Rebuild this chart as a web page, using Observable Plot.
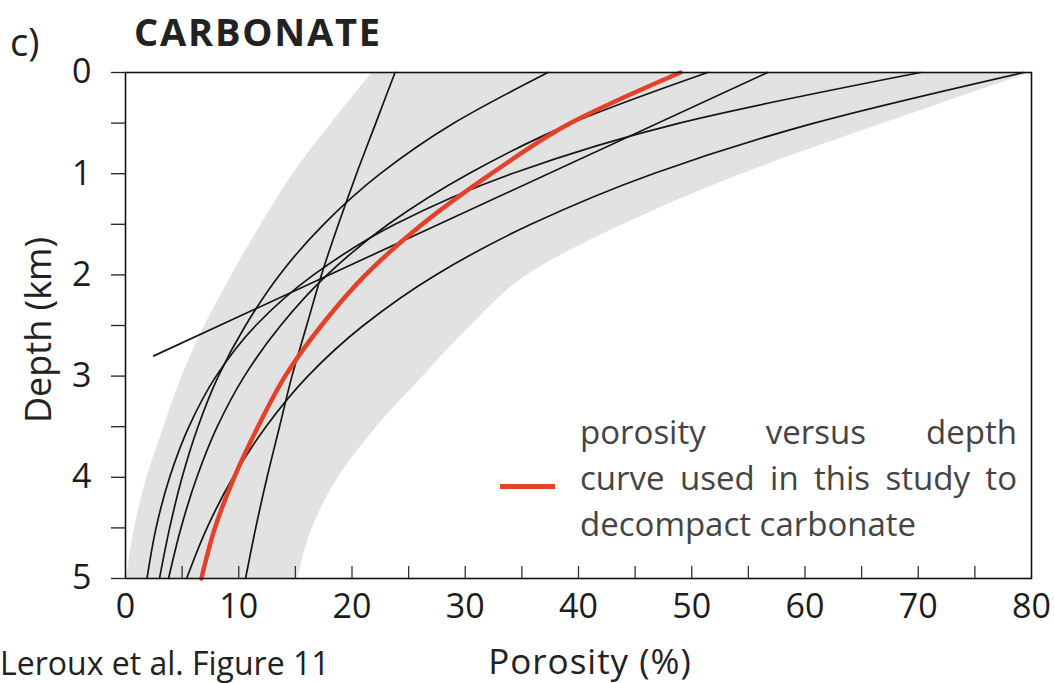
<!DOCTYPE html>
<html>
<head>
<meta charset="utf-8">
<script src="https://cdn.jsdelivr.net/npm/d3@7"></script>
<script src="https://cdn.jsdelivr.net/npm/@observablehq/plot@0.6"></script>
<style>
  html, body { margin: 0; padding: 0; background: #fff; overflow: hidden; }
  #wrap { position: relative; width: 1054px; height: 683px; font-family: "Open Sans", sans-serif; color: #222; overflow: hidden; }
  #wrap svg { position: absolute; left: 0; top: 0; }
  .t { position: absolute; white-space: nowrap; line-height: 1; }
  .leg { position: absolute; left: 580px; width: 437px; font-size: 33px; line-height: 46px; color: #444; white-space: nowrap; }
  .just { text-align: justify; text-align-last: justify; }
</style>
</head>
<body>
<div id="wrap"></div>
<script>
// ---- data ----
const depthKm = [0, 0.5, 1, 1.5, 2, 2.5, 3, 3.5, 4, 4.5, 5];

// published porosity-depth curves (porosity %, at depthKm)
const curveFrom24 = [23.8, 22.1, 20.4, 18.8, 17.3, 16.0, 14.7, 13.6, 12.5, 11.5, 10.6];
const curveFrom37 = [37.3, 29.0, 22.5, 17.5, 13.6, 10.6, 8.2, 6.4, 5.0, 3.9, 3.0];
const curveFrom51 = [51.4, 39.4, 30.3, 23.2, 17.8, 13.7, 10.5, 8.1, 6.3, 4.9, 3.8];
const curveFrom70 = [70.2, 48.9, 34.1, 23.8, 16.6, 11.5, 8.0, 5.6, 3.9, 2.7, 1.9];
const curveFrom79 = [79.3, 60.8, 46.6, 35.8, 27.4, 21.0, 16.1, 12.4, 9.5, 7.2, 5.4];

// straight (linear) curve
const linearDepth = [0, 2.8];
const linearPorosity = [56.7, 2.5];

// curve used in this study (red)
const usedCurve = [49.0, 39.3, 32.3, 26.2, 21.2, 17.3, 14.1, 11.7, 9.6, 7.9, 6.7];

// grey envelope
const envelopeLow  = [21.8, 18.2, 14.8, 12.0, 9.4, 7.0, 5.0, 3.4, 1.9, 0.8, 0.1];
const envelopeHigh = [80.0, 67.0, 54.5, 44.0, 35.5, 30.5, 26.3, 22.2, 18.8, 16.5, 15.2];

// axes
const xTickLabels = [0, 10, 20, 30, 40, 50, 60, 70, 80];
const xMinorTicks = [5, 10, 15, 20, 25, 30, 35, 40, 45, 50, 55, 60, 65, 70, 75];
const yTicks = [0, 0.5, 1, 1.5, 2, 2.5, 3, 3.5, 4, 4.5, 5];
const yTickLabels = [0, 1, 2, 3, 4, 5];

// ---- build tables ----
const toRows = (name, values) => depthKm.map((d, i) => ({name, depth: d, porosity: values[i]}));
const blackCurves = [
  ...toRows("c24", curveFrom24),
  ...toRows("c37", curveFrom37),
  ...toRows("c51", curveFrom51),
  ...toRows("c70", curveFrom70),
  ...toRows("c79", curveFrom79)
];
const linearRows = linearDepth.map((d, i) => ({depth: d, porosity: linearPorosity[i]}));
const usedRows = toRows("used", usedCurve);
const envelope = depthKm.map((d, i) => ({depth: d, lo: envelopeLow[i], hi: envelopeHigh[i]}));

const plot = Plot.plot({
  width: 1054,
  height: 683,
  marginLeft: 125,
  marginRight: 23,
  marginTop: 72,
  marginBottom: 105,
  x: {domain: [0, 80], axis: null},
  y: {domain: [0, 5], reverse: true, axis: null},
  style: {fontFamily: "Open Sans, sans-serif", fontSize: "34px", color: "#1c1c1c", background: "transparent", overflow: "visible"},
  marks: [
    Plot.areaX(envelope, {y: "depth", x1: "lo", x2: "hi", fill: "#e2e2e2", curve: "monotone-y"}),
    Plot.line(blackCurves, {x: "porosity", y: "depth", z: "name", stroke: "#151515", strokeWidth: 1.7, curve: "monotone-y"}),
    Plot.line(linearRows, {x: "porosity", y: "depth", stroke: "#151515", strokeWidth: 1.7}),
    Plot.line(usedRows, {x: "porosity", y: "depth", stroke: "#e4402a", strokeWidth: 4.5, curve: "monotone-y"}),
    Plot.frame({stroke: "#111", strokeWidth: 1.6}),
    // x ticks: inward, every 5
    Plot.ruleX(xMinorTicks, {x: d => d, y1: 5, y2: 5, insetBottom: 12, stroke: "#333", strokeWidth: 1.3}),
    // x tick labels
    Plot.text(xTickLabels, {x: d => d, text: d => String(d), frameAnchor: "bottom", lineAnchor: "top", dy: 15, fontSize: 34, fill: "#1c1c1c"}),
    // y ticks: outward, every 0.5
    Plot.ruleY(yTicks, {y: d => d, x1: 0, x2: 0, insetLeft: -14, stroke: "#222", strokeWidth: 1.3}),
    // y tick labels
    Plot.text(yTickLabels, {y: d => d, text: d => String(d), frameAnchor: "left", textAnchor: "end", dx: -34, fontSize: 34, fill: "#1c1c1c"})
  ]
});

const wrap = document.getElementById("wrap");
wrap.appendChild(plot);

function addText(html, css, cls = "t") {
  const el = document.createElement("div");
  el.className = cls;
  el.innerHTML = html;
  Object.assign(el.style, css);
  wrap.appendChild(el);
  return el;
}

addText("c)", {left: "10px", top: "22px", fontSize: "38px", color: "#222"});
addText("CARBONATE", {left: "134px", top: "12px", fontSize: "38px", fontWeight: "700", letterSpacing: "1.8px", color: "#222"});
addText("Depth (km)", {left: "38px", top: "330px", fontSize: "36px", color: "#222", transform: "translate(-50%,-50%) rotate(-90deg)"});
addText("Porosity (%)", {left: "590px", top: "643px", fontSize: "35px", letterSpacing: "1px", color: "#222", transform: "translateX(-50%)"});
addText("Leroux et al. Figure 11", {left: "0px", top: "647px", fontSize: "32px", color: "#222"});

// legend
const sw = document.createElement("div");
Object.assign(sw.style, {position: "absolute", left: "500px", top: "484px", width: "55px", height: "5px", background: "#e4402a"});
wrap.appendChild(sw);
addText("porosity versus depth", {top: "409px"}, "leg just");
addText("curve used in this study to", {top: "455px"}, "leg just");
addText("decompact carbonate", {top: "501px"}, "leg");
</script>
</body>
</html>
